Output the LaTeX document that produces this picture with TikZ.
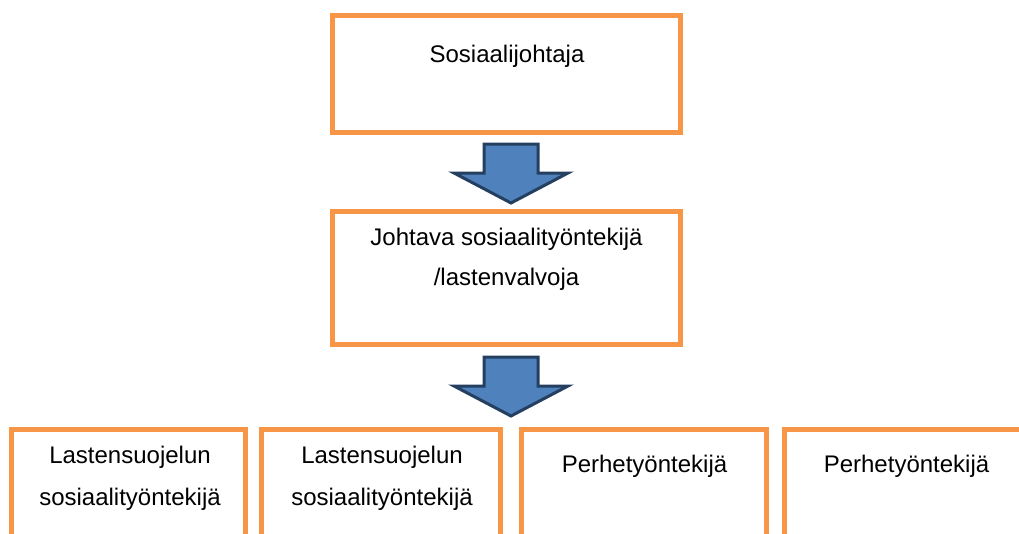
\documentclass[tikz,border=0pt]{standalone}
\usepackage{fontspec}
\setmainfont{Liberation Sans}
\usetikzlibrary{calc}
\definecolor{boxorange}{HTML}{F79646}
\definecolor{arrowfill}{HTML}{4F81BD}
\definecolor{arrowline}{HTML}{243F60}
\begin{document}
\begin{tikzpicture}[x=1pt,y=-1pt,
  box/.style={draw=boxorange, line width=5pt, fill=white, inner sep=0pt, rectangle},
  lbl/.style={font=\fontsize{24}{29}\selectfont, anchor=base, inner sep=0pt},
  blockarrow/.style={draw=arrowline, line width=3pt, fill=arrowfill, line join=miter}]
\useasboundingbox (0,0) rectangle (1019,533);
\clip (0,0) rectangle (1019,533);
% boxes
\node[box, minimum width=348pt, minimum height=117pt] (top) at (506.5,74) {};
\node[box, minimum width=348pt, minimum height=133pt] (mid) at (506.5,278) {};
\node[box, minimum width=234pt, minimum height=150pt] (b1) at (128.5,504.5) {};
\node[box, minimum width=239pt, minimum height=150pt] (b2) at (381,504.5) {};
\node[box, minimum width=245pt, minimum height=150pt] (b3) at (644,504.5) {};
\node[box, minimum width=245pt, minimum height=150pt] (b4) at (907,504.5) {};
% texts
\node[lbl] (t0) at (507,62) {Sosiaalijohtaja};
\node[lbl] (t1) at (506.5,245) {Johtava sosiaalityöntekijä};
\node[lbl] (t2) at (506.5,285) {/lastenvalvoja};
\node[lbl] (t3) at (130,463) {Lastensuojelun};
\node[lbl] (t4) at (130,505) {sosiaalityöntekijä};
\node[lbl] (t5) at (382,463) {Lastensuojelun};
\node[lbl] (t6) at (382,505) {sosiaalityöntekijä};
\node[lbl] (t7) at (644.5,472) {Perhetyöntekijä};
\node[lbl] (t8) at (906.5,472) {Perhetyöntekijä};
% block arrows
\coordinate (a1) at ($(top.south)+(4.5,9)$);
\coordinate (a2) at ($(mid.south)+(4.5,10)$);
\foreach \a in {a1,a2}{
  \draw[blockarrow] (\a) ++(-27,0) -- ++(54,0) -- ++(0,29) -- ++(30,0) -- ++(-57,30) -- ++(-57,-30) -- ++(30,0) -- cycle;
}
\end{tikzpicture}
\end{document}
